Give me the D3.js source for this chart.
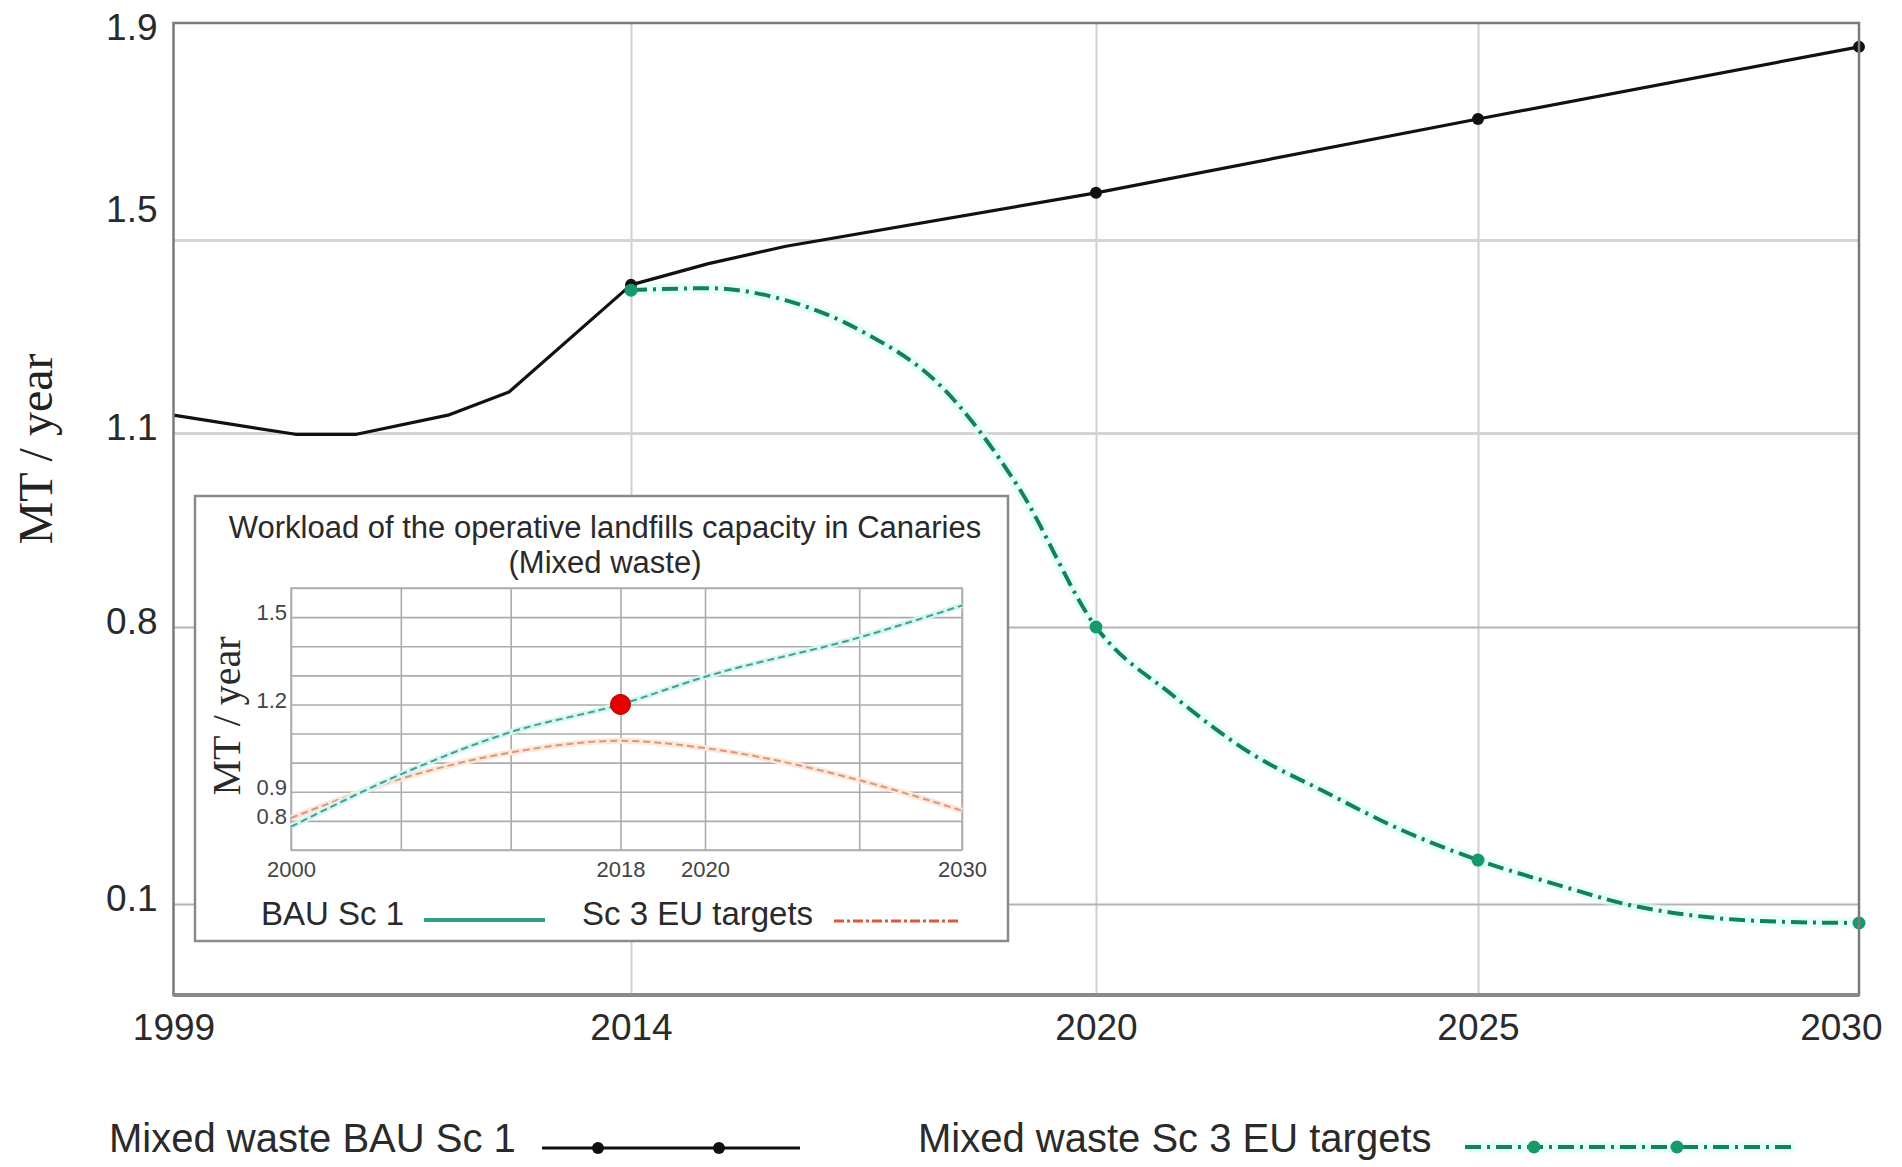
<!DOCTYPE html>
<html><head><meta charset="utf-8">
<script src="https://cdn.jsdelivr.net/npm/d3@7"></script>
<style>html,body{margin:0;padding:0;background:#fff;} svg{display:block;}</style>
</head><body>
<svg id="chart" width="1902" height="1167"></svg>
<script>
// ---------------- data ----------------
const bauYears  = [1999, 2003, 2005, 2008, 2010, 2014, 2015, 2016, 2020, 2025, 2030];
const bauValues = [1.137, 1.098, 1.098, 1.137, 1.185, 1.407, 1.451, 1.487, 1.587, 1.723, 1.856];
const euYears   = [2014, 2015, 2016, 2017, 2018, 2019, 2020, 2021, 2022, 2023, 2024, 2025, 2026, 2027, 2028, 2029, 2030];
const euValues  = [1.396, 1.400, 1.375, 1.309, 1.197, 1.016, 0.80, 0.628, 0.484, 0.383, 0.287, 0.211, 0.151, 0.097, 0.067, 0.055, 0.052];
const markerYears = [2014, 2020, 2025, 2030];
const xTickYears  = [1999, 2014, 2020, 2025, 2030];
const yTickValues = [0.1, 0.8, 1.1, 1.5, 1.9];
const xGridYears  = [2014, 2020, 2025];
const yGridValues = [0.1, 0.8, 1.1, 1.5];
const legendLabels = ["Mixed waste BAU Sc 1", "Mixed waste Sc 3 EU targets"];
const yTitle = "MT / year";

// inset
const insetTitle = ["Workload of the operative landfills capacity in Canaries", "(Mixed waste)"];
const insetYears = [2000, 2006, 2012, 2018, 2020, 2026, 2030];
const insetBau   = [0.78, 0.96, 1.105, 1.20, 1.295, 1.43, 1.54];
const insetEu    = [0.81, 0.945, 1.035, 1.075, 1.05, 0.94, 0.835];
const insetXTicks = [2000, 2018, 2020, 2030];
const insetYTicks = [0.8, 0.9, 1.2, 1.5];
const insetGridYears  = [2000, 2006, 2012, 2018, 2020, 2026, 2030];
const insetGridValues = [0.7, 0.8, 0.9, 1.0, 1.1, 1.2, 1.3, 1.4, 1.5, 1.6];
const insetHighlightYear = 2018, insetHighlightValue = 1.2;
const insetLegendLabels = ["BAU Sc 1", "Sc 3 EU targets"];

// ---------------- layout ----------------
const svg = d3.select("#chart");
const L = 173.5, R = 1859, T = 23, B = 995;
const SANS = "'Liberation Sans', Arial, sans-serif";
const SERIF = "'Liberation Serif', 'Times New Roman', serif";

const x = d3.scaleLinear().domain([1999, 2014, 2020, 2025, 2030]).range([L, 631, 1096, 1478, R]);
const y = d3.scaleLinear().domain([0.1, 0.8, 1.1, 1.5, 1.9]).range([904, 627, 433, 240, T]);

// gridlines
const gx = svg.append("g").attr("transform", `translate(0,${B})`)
  .call(d3.axisBottom(x).tickValues(xGridYears).tickSize(-(B - T)).tickFormat(""));
gx.select(".domain").remove();
gx.selectAll("line").attr("stroke", "#cfcfcf").attr("stroke-width", 2);

const gy = svg.append("g").attr("transform", `translate(${L},0)`)
  .call(d3.axisLeft(y).tickValues(yGridValues).tickSize(-(R - L)).tickFormat(""));
gy.select(".domain").remove();
gy.selectAll("line").attr("stroke", d => d >= 1.1 ? "#d4d4d4" : "#b4b4b4").attr("stroke-width", d => d >= 1.1 ? 3 : 2);

// series
const pts = (xs, vs) => xs.map((d, i) => ({ year: d, value: vs[i] }));
const bau = pts(bauYears, bauValues);
const eu = pts(euYears, euValues);

const lineLin = d3.line().x(d => x(d.year)).y(d => y(d.value));
const lineSmooth = d3.line().x(d => x(d.year)).y(d => y(d.value)).curve(d3.curveMonotoneX);

// green halo
svg.append("path").datum(eu).attr("d", lineSmooth).attr("fill", "none")
  .attr("stroke", "#d6fff7").attr("stroke-width", 11).attr("stroke-linecap", "round").attr("opacity", 0.6);
svg.append("path").datum(eu).attr("d", lineSmooth).attr("fill", "none")
  .attr("stroke", "#14815b").attr("stroke-width", 4).attr("stroke-dasharray", "16,6,3,6");

svg.append("path").datum(bau).attr("d", lineLin).attr("fill", "none")
  .attr("stroke", "#111").attr("stroke-width", 3.2).attr("stroke-linejoin", "round");

svg.append("g").selectAll("circle").data(bau.filter(d => markerYears.includes(d.year))).join("circle")
  .attr("cx", d => x(d.year)).attr("cy", d => y(d.value)).attr("r", 6).attr("fill", "#111");
svg.append("g").selectAll("circle").data(eu.filter(d => markerYears.includes(d.year))).join("circle")
  .attr("cx", d => x(d.year)).attr("cy", d => y(d.value)).attr("r", 6.5).attr("fill", "#18996a");

// frame
svg.append("rect").attr("x", L).attr("y", T).attr("width", R - L).attr("height", B - T)
  .attr("fill", "none").attr("stroke", "#7a7a7a").attr("stroke-width", 2.5);
svg.append("line").attr("x1", L).attr("x2", R).attr("y1", B).attr("y2", B)
  .attr("stroke", "#8a8a8a").attr("stroke-width", 4);

// axes labels
const ax = svg.append("g").attr("transform", `translate(0,${B})`)
  .call(d3.axisBottom(x).tickValues(xTickYears).tickSize(0).tickPadding(19).tickFormat(d3.format("d")));
ax.select(".domain").remove();
ax.selectAll("text").attr("font-family", SANS).attr("font-size", 37).attr("fill", "#2a2a2a")
  .each(function (d) {
    const w = this.getComputedTextLength();
    const cx = x(d);
    if (cx + w / 2 > 1882) d3.select(this).attr("x", 1882 - w / 2 - cx);
  });

const ay = svg.append("g").attr("transform", `translate(${L},0)`)
  .call(d3.axisLeft(y).tickValues(yTickValues).tickSize(0).tickPadding(16).tickFormat(d3.format(".1f")));
ay.select(".domain").remove();
ay.selectAll("text").attr("font-family", SANS).attr("font-size", 37).attr("fill", "#2a2a2a")
  .attr("dy", d => d === 1.9 ? "0.45em" : d === 1.5 ? "-0.5em" : "0.18em");

svg.append("text").attr("transform", "translate(52,449) rotate(-90)")
  .attr("text-anchor", "middle").attr("font-family", SERIF).attr("font-size", 48).attr("fill", "#222")
  .text(yTitle);

// ---------------- inset ----------------
const iL = 291, iR = 962, iT = 588, iB = 850;
const ix = d3.scaleLinear().domain([2000, 2018, 2020, 2030]).range([iL, 620.5, 705, iR]);
const iy = d3.scaleLinear().domain([0.7, 1.6]).range([iB, iT]);

const inset = svg.append("g");
inset.append("rect").attr("x", 195).attr("y", 496).attr("width", 813).attr("height", 445)
  .attr("fill", "#fff").attr("stroke", "#8a8a8a").attr("stroke-width", 2.5);

inset.selectAll("text.ititle").data(insetTitle).join("text").attr("class", "ititle")
  .attr("x", 605).attr("y", (d, i) => 538 + i * 35).attr("text-anchor", "middle")
  .attr("font-family", SANS).attr("font-size", 31).attr("fill", "#2a2a2a").text(d => d);

const igx = inset.append("g").attr("transform", `translate(0,${iB})`)
  .call(d3.axisBottom(ix).tickValues(insetGridYears).tickSize(-(iB - iT)).tickFormat(""));
igx.select(".domain").remove();
igx.selectAll("line").attr("stroke", "#ababab").attr("stroke-width", 1.6);
const igy = inset.append("g").attr("transform", `translate(${iL},0)`)
  .call(d3.axisLeft(iy).tickValues(insetGridValues).tickSize(-(iR - iL)).tickFormat(""));
igy.select(".domain").remove();
igy.selectAll("line").attr("stroke", "#ababab").attr("stroke-width", 1.6);
inset.append("rect").attr("x", iL).attr("y", iT).attr("width", iR - iL).attr("height", iB - iT)
  .attr("fill", "none").attr("stroke", "#b0b0b0").attr("stroke-width", 1.6);

const iline = d3.line().x(d => ix(d.year)).y(d => iy(d.value)).curve(d3.curveMonotoneX);
const iBauPts = pts(insetYears, insetBau);
const iEuPts = pts(insetYears, insetEu);
inset.append("path").datum(iEuPts).attr("d", iline).attr("fill", "none")
  .attr("stroke", "#fde6da").attr("stroke-width", 6);
inset.append("path").datum(iEuPts).attr("d", iline).attr("fill", "none")
  .attr("stroke", "#d9977c").attr("stroke-width", 2).attr("stroke-dasharray", "7,4");
inset.append("path").datum(iBauPts).attr("d", iline).attr("fill", "none")
  .attr("stroke", "#d2f7f2").attr("stroke-width", 6);
inset.append("path").datum(iBauPts).attr("d", iline).attr("fill", "none")
  .attr("stroke", "#4e9a92").attr("stroke-width", 2).attr("stroke-dasharray", "7,4");

inset.append("circle").attr("cx", ix(insetHighlightYear)).attr("cy", iy(insetHighlightValue)).attr("r", 10)
  .attr("fill", "#e50000").attr("stroke", "#a00000").attr("stroke-width", 1);

const iax = inset.append("g").attr("transform", `translate(0,${iB})`)
  .call(d3.axisBottom(ix).tickValues(insetXTicks).tickSize(0).tickPadding(11).tickFormat(d3.format("d")));
iax.select(".domain").remove();
iax.selectAll("text").attr("font-family", SANS).attr("font-size", 22).attr("fill", "#444");
const iay = inset.append("g").attr("transform", `translate(${iL},0)`)
  .call(d3.axisLeft(iy).tickValues(insetYTicks).tickSize(0).tickPadding(4).tickFormat(d3.format(".1f")));
iay.select(".domain").remove();
iay.selectAll("text").attr("font-family", SANS).attr("font-size", 22).attr("fill", "#444").attr("dy", "0.12em");

inset.append("text").attr("transform", "translate(240,716) rotate(-90)")
  .attr("text-anchor", "middle").attr("font-family", SERIF).attr("font-size", 40).attr("fill", "#2a2a2a")
  .text(yTitle);

// inset legend
inset.append("text").attr("x", 261).attr("y", 925).attr("font-family", SANS).attr("font-size", 33)
  .attr("fill", "#2a2a2a").text(insetLegendLabels[0]);
inset.append("line").attr("x1", 424).attr("x2", 545).attr("y1", 920).attr("y2", 920)
  .attr("stroke", "#2f9e88").attr("stroke-width", 4);
inset.append("text").attr("x", 582).attr("y", 925).attr("font-family", SANS).attr("font-size", 33)
  .attr("fill", "#2a2a2a").text(insetLegendLabels[1]);
inset.append("line").attr("x1", 834).attr("x2", 960).attr("y1", 921).attr("y2", 921)
  .attr("stroke", "#e0583c").attr("stroke-width", 3).attr("stroke-dasharray", "10,3,3,3");

// ---------------- main legend ----------------
const lg = svg.append("g");
lg.append("text").attr("x", 109).attr("y", 1152).attr("font-family", SANS).attr("font-size", 40)
  .attr("fill", "#2a2a2a").text(legendLabels[0]);
lg.append("line").attr("x1", 542).attr("x2", 800).attr("y1", 1148).attr("y2", 1148)
  .attr("stroke", "#111").attr("stroke-width", 3.2);
lg.selectAll("circle.b").data([598, 719]).join("circle").attr("class", "b")
  .attr("cx", d => d).attr("cy", 1148).attr("r", 6).attr("fill", "#111");

lg.append("text").attr("x", 918).attr("y", 1152).attr("font-family", SANS).attr("font-size", 40)
  .attr("fill", "#2a2a2a").text(legendLabels[1]);
lg.append("line").attr("x1", 1465).attr("x2", 1795).attr("y1", 1147).attr("y2", 1147)
  .attr("stroke", "#d6fff7").attr("stroke-width", 11).attr("opacity", 0.6);
lg.append("line").attr("x1", 1465).attr("x2", 1795).attr("y1", 1147).attr("y2", 1147)
  .attr("stroke", "#14815b").attr("stroke-width", 4).attr("stroke-dasharray", "16,6,3,6");
lg.selectAll("circle.g").data([1534, 1677]).join("circle").attr("class", "g")
  .attr("cx", d => d).attr("cy", 1147).attr("r", 6.5).attr("fill", "#18996a");
</script>
</body></html>
